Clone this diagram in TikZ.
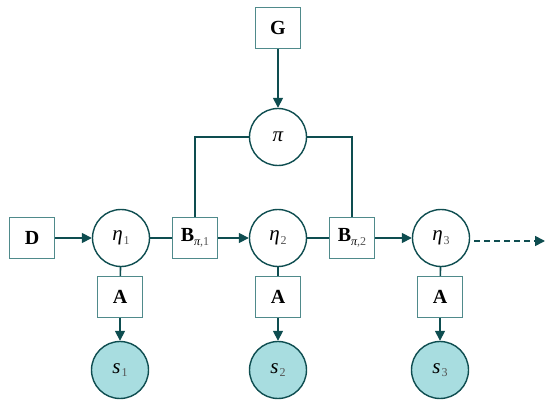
\documentclass[tikz,border=0pt]{standalone}
\usepackage{fontspec}
\setmainfont{Liberation Serif}
\usetikzlibrary{arrows.meta}
\definecolor{edgec}{HTML}{0E4D50}
\definecolor{boxc}{HTML}{4F8A8B}
\definecolor{obsc}{HTML}{A8DDE0}
\definecolor{subc}{HTML}{555555}
\newcommand{\lab}[2]{{\itshape #1}\kern1pt\raisebox{-0.35ex}{\fontsize{12}{12}\selectfont\color{subc}#2}}
\newcommand{\bsub}[1]{\raisebox{-0.45ex}{\fontsize{12}{12}\selectfont\mdseries{\itshape π}\color{subc},#1}}
\begin{document}
\begin{tikzpicture}[x=1pt,y=-1pt,
  sq/.style={draw=boxc,line width=1.2pt,fill=white,minimum width=45pt,minimum height=41pt,inner sep=0pt,font=\fontsize{20}{22}\selectfont\bfseries},
  latent/.style={circle,draw=edgec,line width=1.4pt,fill=white,minimum size=57pt,inner sep=0pt,font=\fontsize{21}{22}\selectfont},
  obs/.style={latent,fill=obsc},
  link/.style={draw=edgec,line width=1.6pt},
  arr/.style={link,-{Triangle[length=10pt,width=10pt]}}]
\useasboundingbox (0,0) rectangle (550,404);
\node[sq] (D) at (32,238) {D};
\node[latent] (e1) at (121,238) {\lab{η}{1}};
\node[sq] (B1) at (195,238) {B\bsub{1}};
\node[latent] (e2) at (278,238) {\lab{η}{2}};
\node[sq] (B2) at (352,238) {B\bsub{2}};
\node[latent] (e3) at (441,238) {\lab{η}{3}};
\coordinate (end) at (545,241);
\node[sq] (G) at (278,28) {G};
\node[latent] (pi) at (278,137) {\itshape π};
\node[sq] (A1) at (120,297) {A};
\node[sq] (A2) at (278,297) {A};
\node[sq] (A3) at (440,297) {A};
\node[obs] (s1) at (120,370) {\lab{s}{1}};
\node[obs] (s2) at (278,370) {\lab{s}{2}};
\node[obs] (s3) at (440,370) {\lab{s}{3}};
\draw[arr] (D) -- (e1);
\draw[link] (e1) -- (B1);
\draw[arr] (B1) -- (e2);
\draw[link] (e2) -- (B2);
\draw[arr] (B2) -- (e3);
\draw[arr,dash pattern=on 6pt off 4pt] (e3.east |- end) ++(4,0) -- (end);
\draw[arr] (G) -- (pi);
\draw[link] (pi.west) -| (B1.north);
\draw[link] (pi.east) -| (B2.north);
\draw[link] (e1) -- (A1);
\draw[link] (e2) -- (A2);
\draw[link] (e3) -- (A3);
\draw[arr] (A1) -- (s1);
\draw[arr] (A2) -- (s2);
\draw[arr] (A3) -- (s3);
\end{tikzpicture}
\end{document}
